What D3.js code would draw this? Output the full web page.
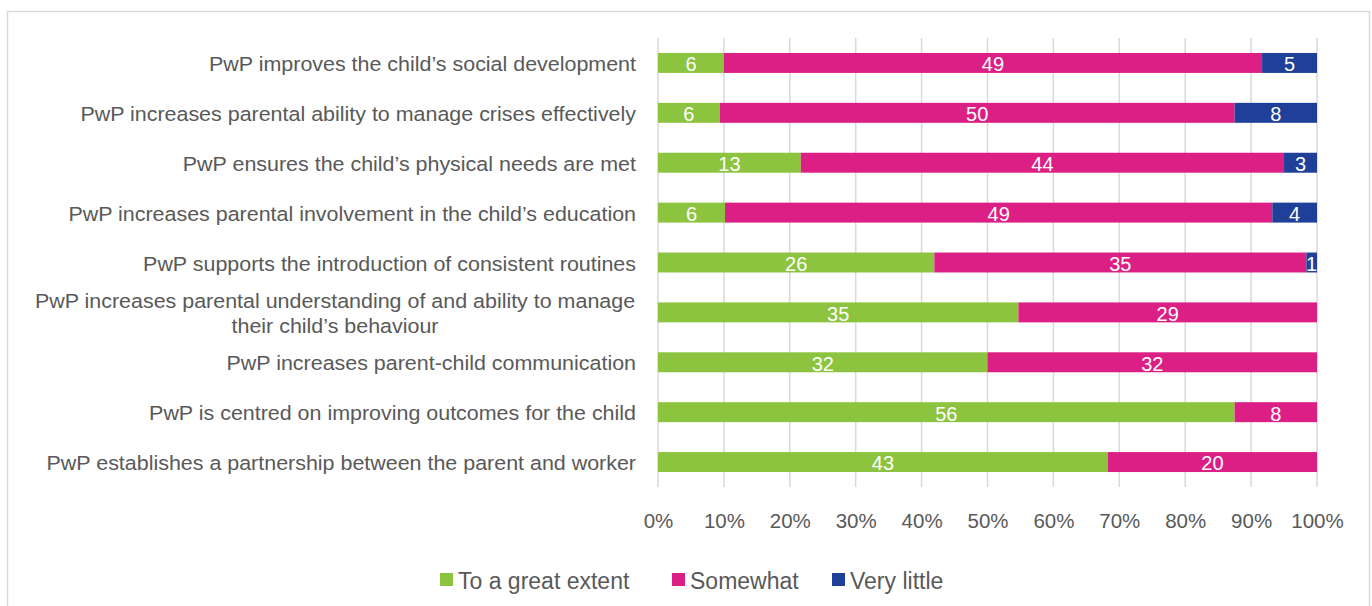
<!DOCTYPE html>
<html>
<head>
<meta charset="utf-8">
<script src="https://cdn.jsdelivr.net/npm/d3@7"></script>
<style>
  html, body { margin: 0; padding: 0; background: #fff; }
  svg { display: block; font-family: "Liberation Sans", Arial, sans-serif; }
</style>
</head>
<body>
<svg id="chart" width="1372" height="606"></svg>
<script>
// Statements about PwP, top to bottom
const categories = [
  ["PwP improves the child\u2019s social development"],
  ["PwP increases parental ability to manage crises effectively"],
  ["PwP ensures the child\u2019s physical needs are met"],
  ["PwP increases parental involvement in the child\u2019s education"],
  ["PwP supports the introduction of consistent routines"],
  ["PwP increases parental understanding of and ability to manage", "their child\u2019s behaviour"],
  ["PwP increases parent-child communication"],
  ["PwP is centred on improving outcomes for the child"],
  ["PwP establishes a partnership between the parent and worker"]
];
const seriesNames = ["To a great extent", "Somewhat", "Very little"];
const greatExtent = [6, 6, 13, 6, 26, 35, 32, 56, 43];
const somewhat    = [49, 50, 44, 49, 35, 29, 32, 8, 20];
const veryLittle  = [5, 8, 3, 4, 1, 0, 0, 0, 0];
const tickValues  = [0, 0.1, 0.2, 0.3, 0.4, 0.5, 0.6, 0.7, 0.8, 0.9, 1];
const colors = ["#8cc43f", "#dc1f84", "#1f3f98"];

const svg = d3.select("#chart");

// outer frame
svg.append("rect")
  .attr("x", 7.5).attr("y", 11.5)
  .attr("width", 1362).attr("height", 620)
  .attr("fill", "#fff").attr("stroke", "#d9d9d9").attr("stroke-width", 1.5);

const plotLeft = 658, plotRight = 1317, plotTop = 38, plotBottom = 487;

const x = d3.scaleLinear().domain([0, 1]).range([plotLeft, plotRight]);
const y = d3.scaleBand().domain(d3.range(categories.length)).range([plotTop, plotBottom]).paddingInner(0.6).paddingOuter(0.3);

const rows = categories.map((c, i) => {
  const vals = [greatExtent[i], somewhat[i], veryLittle[i]];
  const total = d3.sum(vals);
  let acc = 0;
  return vals.map((v, s) => {
    const seg = { row: i, series: s, value: v, x0: acc / total, x1: (acc + v) / total };
    acc += v;
    return seg;
  });
});

// gridlines
svg.append("g")
  .selectAll("line")
  .data(tickValues)
  .join("line")
  .attr("x1", d => x(d)).attr("x2", d => x(d))
  .attr("y1", plotTop).attr("y2", plotBottom)
  .attr("stroke", "#d9d9d9").attr("stroke-width", 1.5);

// bars
const segs = rows.flat().filter(d => d.value > 0);
svg.append("g")
  .selectAll("rect")
  .data(segs)
  .join("rect")
  .attr("x", d => x(d.x0))
  .attr("y", d => y(d.row))
  .attr("width", d => x(d.x1) - x(d.x0))
  .attr("height", y.bandwidth())
  .attr("fill", d => colors[d.series]);

// value labels
svg.append("g")
  .selectAll("text")
  .data(segs)
  .join("text")
  .attr("x", d => (x(d.x0) + x(d.x1)) / 2)
  .attr("y", d => y(d.row) + y.bandwidth() / 2)
  .attr("dy", "0.42em")
  .attr("text-anchor", "middle")
  .attr("fill", "#fff")
  .attr("font-size", 20)
  .text(d => d.value);

// category labels (slightly widened type)
const catG = svg.append("g");
categories.forEach((lines, i) => {
  const cy = y(i) + y.bandwidth() / 2;
  const lh = 25;
  const ax = lines.length > 1 ? 335 : 636;
  const t = catG.append("text")
    .attr("transform", `translate(${ax},${cy}) scale(1.1,1)`)
    .attr("text-anchor", lines.length > 1 ? "middle" : "end")
    .attr("fill", "#595959")
    .attr("font-size", 19.5);
  lines.forEach((ln, k) => {
    t.append("tspan")
      .attr("x", 0)
      .attr("y", (k - (lines.length - 1) / 2) * lh)
      .attr("dy", "0.42em")
      .text(ln);
  });
});

// x axis tick labels
const xAxis = d3.axisBottom(x).tickValues(tickValues).tickFormat(d3.format(".0%")).tickSize(0).tickPadding(0);
const axG = svg.append("g").attr("transform", "translate(0, 513)").call(xAxis);
axG.select(".domain").remove();
axG.selectAll("text").attr("font-size", 20.5).attr("fill", "#595959")
  .attr("font-family", "Liberation Sans, Arial, sans-serif");

// legend
const legendX = [440, 672, 832];
const lg = svg.append("g");
seriesNames.forEach((name, i) => {
  lg.append("rect").attr("x", legendX[i]).attr("y", 573).attr("width", 13).attr("height", 13).attr("fill", colors[i]);
  lg.append("text").attr("x", legendX[i] + 18).attr("y", 589)
    .attr("font-size", 23).attr("fill", "#595959").text(name);
});
</script>
</body>
</html>
